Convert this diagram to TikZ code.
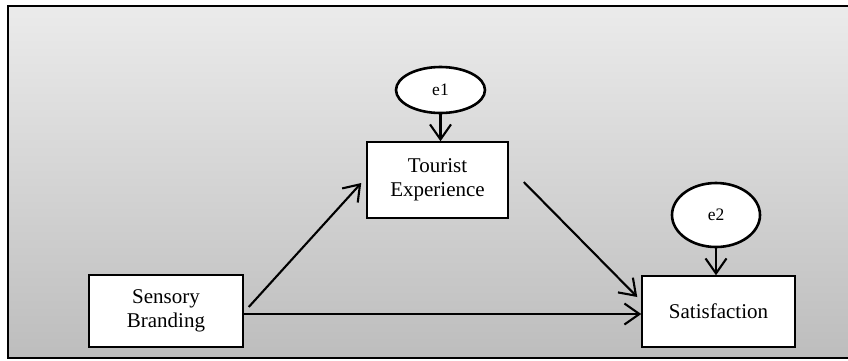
\documentclass[tikz,border=0pt]{standalone}
\usepackage{fontspec}
\setmainfont{Liberation Serif}
\usetikzlibrary{arrows.meta,shapes.geometric}
\definecolor{bgtop}{HTML}{EBEBEB}
\definecolor{bgbot}{HTML}{BDBDBD}
\tikzset{
  varbox/.style={draw=black, line width=1.5pt, fill=white, rectangle, inner sep=0pt,
    align=center, font=\fontsize{21}{24}\selectfont},
  errnode/.style={draw=black, line width=2.6pt, fill=white, ellipse, inner sep=0pt,
    font=\fontsize{17.5}{20}\selectfont},
  path/.style={draw=black, line width=2.1pt, -{Straight Barb[length=15pt,width=21pt,line width=2.1pt]}}
}
\begin{document}
\begin{tikzpicture}[x=1pt,y=-1pt]
  \useasboundingbox (0,0) rectangle (848,360);
  \clip (0,0) rectangle (848,360);
  % framed panel with vertical gradient
  \shade[top color=bgtop, bottom color=bgbot] (8,6) rectangle (856,358);
  \draw[line width=2.2pt] (8,6) rectangle (856,358);

  % variables
  \node[varbox, minimum width=141pt, minimum height=76pt] (te) at (437.5,180) {Tourist\\Experience};
  \node[varbox, minimum width=154pt, minimum height=72pt] (sb) at (166,311) {Sensory\\Branding};
  \node[varbox, minimum width=153pt, minimum height=71pt] (sat) at (718.5,311.5) {Satisfaction};

  % error terms
  \node[errnode, minimum width=89pt, minimum height=46pt] (e1) at (440.5,90) {e1};
  \node[errnode, minimum width=88pt, minimum height=64pt] (e2) at (716,215) {e2};

  % paths
  \draw[path] (e1.south) -- (e1.south |- te.north);
  \draw[path] (e2.south) -- (e2.south |- sat.north);
  \draw[path] ([shift={(5,-4)}]sb.east) -- ([shift={(-5,3)}]te.west);
  \draw[path] ([shift={(15,2)}]te.east) -- ([shift={(-4,-14.5)}]sat.west);
  \draw[path] ([shift={(0,3)}]sb.east) -- ([shift={(0,2.5)}]sat.west);
\end{tikzpicture}
\end{document}
